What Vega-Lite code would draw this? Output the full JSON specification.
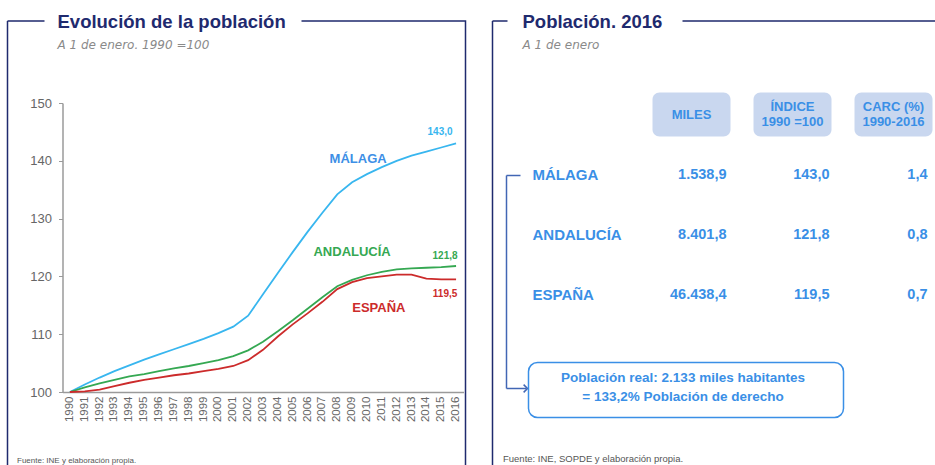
{
  "$schema": "https://vega.github.io/schema/vega-lite/v6.json",
  "padding": {"left": 6.5, "top": 11, "right": 0, "bottom": 0},
  "spacing": 25,
  "background": "white",
  "config": {
    "locale": {"number": {"decimal": ",", "thousands": ".", "grouping": [3], "currency": ["", " €"]}},
    "font": "Liberation Sans",
    "view": {"stroke": null},
    "title": {
      "font": "Liberation Sans", "fontSize": 18.5, "fontWeight": "bold", "color": "#1f2a6e",
      "subtitleFont": "DejaVu Sans", "subtitleFontSize": 12, "subtitleFontStyle": "italic",
      "subtitleColor": "#8a8a8a", "subtitlePadding": 9, "anchor": "start", "frame": "group", "offset": -30
    }
  },
  "datasets": {
    "evolucion": [
      {"serie": "MÁLAGA", "anio": 1990, "valor": 100.0},
      {"serie": "MÁLAGA", "anio": 1991, "valor": 101.3},
      {"serie": "MÁLAGA", "anio": 1992, "valor": 102.5},
      {"serie": "MÁLAGA", "anio": 1993, "valor": 103.6},
      {"serie": "MÁLAGA", "anio": 1994, "valor": 104.6},
      {"serie": "MÁLAGA", "anio": 1995, "valor": 105.6},
      {"serie": "MÁLAGA", "anio": 1996, "valor": 106.5},
      {"serie": "MÁLAGA", "anio": 1997, "valor": 107.4},
      {"serie": "MÁLAGA", "anio": 1998, "valor": 108.3},
      {"serie": "MÁLAGA", "anio": 1999, "valor": 109.2},
      {"serie": "MÁLAGA", "anio": 2000, "valor": 110.2},
      {"serie": "MÁLAGA", "anio": 2001, "valor": 111.3},
      {"serie": "MÁLAGA", "anio": 2002, "valor": 113.2},
      {"serie": "MÁLAGA", "anio": 2003, "valor": 116.9},
      {"serie": "MÁLAGA", "anio": 2004, "valor": 120.6},
      {"serie": "MÁLAGA", "anio": 2005, "valor": 124.2},
      {"serie": "MÁLAGA", "anio": 2006, "valor": 127.7},
      {"serie": "MÁLAGA", "anio": 2007, "valor": 131.0},
      {"serie": "MÁLAGA", "anio": 2008, "valor": 134.2},
      {"serie": "MÁLAGA", "anio": 2009, "valor": 136.3},
      {"serie": "MÁLAGA", "anio": 2010, "valor": 137.7},
      {"serie": "MÁLAGA", "anio": 2011, "valor": 138.9},
      {"serie": "MÁLAGA", "anio": 2012, "valor": 140.0},
      {"serie": "MÁLAGA", "anio": 2013, "valor": 140.9},
      {"serie": "MÁLAGA", "anio": 2014, "valor": 141.6},
      {"serie": "MÁLAGA", "anio": 2015, "valor": 142.3},
      {"serie": "MÁLAGA", "anio": 2016, "valor": 143.0},
      {"serie": "ANDALUCÍA", "anio": 1990, "valor": 100.0},
      {"serie": "ANDALUCÍA", "anio": 1991, "valor": 100.8},
      {"serie": "ANDALUCÍA", "anio": 1992, "valor": 101.5},
      {"serie": "ANDALUCÍA", "anio": 1993, "valor": 102.1},
      {"serie": "ANDALUCÍA", "anio": 1994, "valor": 102.7},
      {"serie": "ANDALUCÍA", "anio": 1995, "valor": 103.1},
      {"serie": "ANDALUCÍA", "anio": 1996, "valor": 103.6},
      {"serie": "ANDALUCÍA", "anio": 1997, "valor": 104.1},
      {"serie": "ANDALUCÍA", "anio": 1998, "valor": 104.5},
      {"serie": "ANDALUCÍA", "anio": 1999, "valor": 105.0},
      {"serie": "ANDALUCÍA", "anio": 2000, "valor": 105.5},
      {"serie": "ANDALUCÍA", "anio": 2001, "valor": 106.2},
      {"serie": "ANDALUCÍA", "anio": 2002, "valor": 107.2},
      {"serie": "ANDALUCÍA", "anio": 2003, "valor": 108.7},
      {"serie": "ANDALUCÍA", "anio": 2004, "valor": 110.5},
      {"serie": "ANDALUCÍA", "anio": 2005, "valor": 112.4},
      {"serie": "ANDALUCÍA", "anio": 2006, "valor": 114.4},
      {"serie": "ANDALUCÍA", "anio": 2007, "valor": 116.4},
      {"serie": "ANDALUCÍA", "anio": 2008, "valor": 118.3},
      {"serie": "ANDALUCÍA", "anio": 2009, "valor": 119.4},
      {"serie": "ANDALUCÍA", "anio": 2010, "valor": 120.2},
      {"serie": "ANDALUCÍA", "anio": 2011, "valor": 120.8},
      {"serie": "ANDALUCÍA", "anio": 2012, "valor": 121.2},
      {"serie": "ANDALUCÍA", "anio": 2013, "valor": 121.4},
      {"serie": "ANDALUCÍA", "anio": 2014, "valor": 121.5},
      {"serie": "ANDALUCÍA", "anio": 2015, "valor": 121.6},
      {"serie": "ANDALUCÍA", "anio": 2016, "valor": 121.8},
      {"serie": "ESPAÑA", "anio": 1990, "valor": 100.0},
      {"serie": "ESPAÑA", "anio": 1991, "valor": 100.1},
      {"serie": "ESPAÑA", "anio": 1992, "valor": 100.4},
      {"serie": "ESPAÑA", "anio": 1993, "valor": 101.0},
      {"serie": "ESPAÑA", "anio": 1994, "valor": 101.6},
      {"serie": "ESPAÑA", "anio": 1995, "valor": 102.1},
      {"serie": "ESPAÑA", "anio": 1996, "valor": 102.5},
      {"serie": "ESPAÑA", "anio": 1997, "valor": 102.9},
      {"serie": "ESPAÑA", "anio": 1998, "valor": 103.2},
      {"serie": "ESPAÑA", "anio": 1999, "valor": 103.6},
      {"serie": "ESPAÑA", "anio": 2000, "valor": 104.0},
      {"serie": "ESPAÑA", "anio": 2001, "valor": 104.5},
      {"serie": "ESPAÑA", "anio": 2002, "valor": 105.5},
      {"serie": "ESPAÑA", "anio": 2003, "valor": 107.3},
      {"serie": "ESPAÑA", "anio": 2004, "valor": 109.6},
      {"serie": "ESPAÑA", "anio": 2005, "valor": 111.7},
      {"serie": "ESPAÑA", "anio": 2006, "valor": 113.6},
      {"serie": "ESPAÑA", "anio": 2007, "valor": 115.6},
      {"serie": "ESPAÑA", "anio": 2008, "valor": 117.8},
      {"serie": "ESPAÑA", "anio": 2009, "valor": 119.0},
      {"serie": "ESPAÑA", "anio": 2010, "valor": 119.7},
      {"serie": "ESPAÑA", "anio": 2011, "valor": 120.0},
      {"serie": "ESPAÑA", "anio": 2012, "valor": 120.3},
      {"serie": "ESPAÑA", "anio": 2013, "valor": 120.3},
      {"serie": "ESPAÑA", "anio": 2014, "valor": 119.6},
      {"serie": "ESPAÑA", "anio": 2015, "valor": 119.5},
      {"serie": "ESPAÑA", "anio": 2016, "valor": 119.5}
    ],
    "tabla": [
      {"region": "MÁLAGA", "miles": 1538.9, "indice": 143.0, "carc": 1.4},
      {"region": "ANDALUCÍA", "miles": 8401.8, "indice": 121.8, "carc": 0.8},
      {"region": "ESPAÑA", "miles": 46438.4, "indice": 119.5, "carc": 0.7}
    ],
    "cabeceras": [
      {"col": "miles", "cabecera": "MILES", "lineas": 1},
      {"col": "indice", "cabecera": "ÍNDICE\n1990 =100", "lineas": 2},
      {"col": "carc", "cabecera": "CARC (%)\n1990-2016", "lineas": 2}
    ],
    "nota": [
      {"texto": "Población real:  2.133 miles habitantes\n= 133,2% Población  de derecho"}
    ]
  },
  "hconcat": [
    {
      "width": 458,
      "height": 445,
      "view": {"stroke": "#1f2a6e", "strokeWidth": 1.5, "strokeDash": [37, 257, 609, 458, 445, 0]},
      "title": {"text": "Evolución de la población", "subtitle": "A 1 de enero. 1990 =100", "dx": 50},
      "data": {"name": "evolucion"},
      "encoding": {
        "x": {
          "field": "anio", "type": "ordinal",
          "scale": {"type": "band", "range": [55, 456], "paddingInner": 0, "paddingOuter": 0},
          "axis": {
            "labelAngle": -90, "ticks": false, "domainColor": "#9a9a9a", "domainWidth": 1.5,
            "labelColor": "#666666", "labelFont": "Liberation Sans", "labelFontSize": 11.5, "labelPadding": 4,
            "offset": -74,
            "title": "Fuente: INE y elaboración propia.", "titleX": 9, "titleY": 70.5,
            "titleAlign": "left", "titleBaseline": "alphabetic", "titleFontSize": 8,
            "titleFontWeight": "normal", "titleColor": "#555555", "titleFont": "Liberation Sans"
          }
        },
        "y": {
          "field": "valor", "type": "quantitative",
          "scale": {"domain": [100, 150], "range": [371, 82], "nice": false, "zero": false},
          "axis": {
            "offset": -55, "values": [100, 110, 120, 130, 140, 150], "grid": false,
            "domainColor": "#9a9a9a", "domainWidth": 1.5, "tickColor": "#9a9a9a", "tickSize": 4,
            "labelPadding": 7, "labelColor": "#666666", "labelFontSize": 13, "title": null
          }
        }
      },
      "layer": [
        {
          "mark": {"type": "line", "strokeWidth": 1.8},
          "encoding": {
            "color": {
              "field": "serie", "type": "nominal", "legend": null,
              "scale": {"domain": ["MÁLAGA", "ANDALUCÍA", "ESPAÑA"], "range": ["#38b6ef", "#35a852", "#cc2b2b"]}
            }
          }
        },
        {
          "transform": [{"filter": "datum.serie == 'MÁLAGA' && datum.anio == 2009"}],
          "mark": {"type": "text", "dx": 6, "dy": -23, "fontWeight": "bold", "fontSize": 13, "color": "#3d8fe6"},
          "encoding": {"text": {"field": "serie"}}
        },
        {
          "transform": [{"filter": "datum.serie == 'ANDALUCÍA' && datum.anio == 2009"}],
          "mark": {"type": "text", "dx": 0, "dy": -28, "fontWeight": "bold", "fontSize": 13, "color": "#35a852"},
          "encoding": {"text": {"field": "serie"}}
        },
        {
          "transform": [{"filter": "datum.serie == 'ESPAÑA' && datum.anio == 2011"}],
          "mark": {"type": "text", "dx": -3, "dy": 32, "fontWeight": "bold", "fontSize": 13, "color": "#cc2b2b"},
          "encoding": {"text": {"field": "serie"}}
        },
        {
          "transform": [{"filter": "datum.serie == 'MÁLAGA' && datum.anio == 2016"}],
          "mark": {"type": "text", "dx": -16, "dy": -11, "fontWeight": "bold", "fontSize": 10, "color": "#38b6ef"},
          "encoding": {"text": {"field": "valor", "type": "quantitative", "format": ".1f"}}
        },
        {
          "transform": [{"filter": "datum.serie == 'ANDALUCÍA' && datum.anio == 2016"}],
          "mark": {"type": "text", "dx": -11, "dy": -10, "fontWeight": "bold", "fontSize": 10, "color": "#35a852"},
          "encoding": {"text": {"field": "valor", "type": "quantitative", "format": ".1f"}}
        },
        {
          "transform": [{"filter": "datum.serie == 'ESPAÑA' && datum.anio == 2016"}],
          "mark": {"type": "text", "dx": -11, "dy": 15, "fontWeight": "bold", "fontSize": 10, "color": "#cc2b2b"},
          "encoding": {"text": {"field": "valor", "type": "quantitative", "format": ".1f"}}
        }
      ]
    },
    {
      "width": 446,
      "height": 445,
      "view": {"stroke": "#1f2a6e", "strokeWidth": 1.5, "strokeDash": [15, 175, 256, 891, 445, 0]},
      "title": {"text": "Población. 2016", "subtitle": "A 1 de enero", "dx": 30},
      "layer": [
        {
          "data": {"name": "cabeceras"},
          "mark": {"type": "rect", "width": 78, "height": 44, "cornerRadius": 7, "fill": "#c9d7ef"},
          "encoding": {
            "x": {"field": "col", "type": "nominal", "scale": {"type": "band", "domain": ["nombre", "miles", "indice", "carc"], "range": [47.5, 451.5], "paddingInner": 0, "paddingOuter": 0},
              "axis": {"labels": false, "ticks": false, "domain": false, "title": "Fuente: INE, SOPDE y elaboración propia.", "titleX": 10, "titleY": -5, "titleAlign": "left", "titleBaseline": "alphabetic", "titleFontSize": 9.5, "titleFontWeight": "normal", "titleColor": "#555555", "titleFont": "Liberation Sans"}},
            "y": {"datum": "hdr", "type": "nominal", "scale": {"type": "band", "domain": ["hdr", "MÁLAGA", "ANDALUCÍA", "ESPAÑA", "nota"], "range": [63.5, 363.5], "paddingInner": 0, "paddingOuter": 0}, "axis": null}
          }
        },
        {
          "data": {"name": "cabeceras"},
          "transform": [{"filter": "datum.lineas == 1"}],
          "mark": {"type": "text", "fontSize": 13, "fontWeight": "bold", "color": "#3a8fe6"},
          "encoding": {
            "x": {"field": "col", "type": "nominal", "scale": {"type": "band", "domain": ["nombre", "miles", "indice", "carc"], "range": [47.5, 451.5], "paddingInner": 0, "paddingOuter": 0},
              "axis": {"labels": false, "ticks": false, "domain": false, "title": "Fuente: INE, SOPDE y elaboración propia.", "titleX": 10, "titleY": -5, "titleAlign": "left", "titleBaseline": "alphabetic", "titleFontSize": 9.5, "titleFontWeight": "normal", "titleColor": "#555555", "titleFont": "Liberation Sans"}},
            "y": {"datum": "hdr", "type": "nominal", "scale": {"type": "band", "domain": ["hdr", "MÁLAGA", "ANDALUCÍA", "ESPAÑA", "nota"], "range": [63.5, 363.5], "paddingInner": 0, "paddingOuter": 0}, "axis": null},
            "text": {"field": "cabecera"}
          }
        },
        {
          "data": {"name": "cabeceras"},
          "transform": [{"filter": "datum.lineas == 2"}],
          "mark": {"type": "text", "lineBreak": "\n", "fontSize": 13, "lineHeight": 15, "fontWeight": "bold", "color": "#3a8fe6", "dy": -7.5},
          "encoding": {
            "x": {"field": "col", "type": "nominal", "scale": {"type": "band", "domain": ["nombre", "miles", "indice", "carc"], "range": [47.5, 451.5], "paddingInner": 0, "paddingOuter": 0},
              "axis": {"labels": false, "ticks": false, "domain": false, "title": "Fuente: INE, SOPDE y elaboración propia.", "titleX": 10, "titleY": -5, "titleAlign": "left", "titleBaseline": "alphabetic", "titleFontSize": 9.5, "titleFontWeight": "normal", "titleColor": "#555555", "titleFont": "Liberation Sans"}},
            "y": {"datum": "hdr", "type": "nominal", "scale": {"type": "band", "domain": ["hdr", "MÁLAGA", "ANDALUCÍA", "ESPAÑA", "nota"], "range": [63.5, 363.5], "paddingInner": 0, "paddingOuter": 0}, "axis": null},
            "text": {"field": "cabecera"}
          }
        },
        {
          "data": {"name": "tabla"},
          "mark": {"type": "text", "align": "left", "dx": -58, "fontSize": 15, "fontWeight": "bold", "color": "#3a8fe6"},
          "encoding": {
            "x": {"datum": "nombre", "type": "nominal", "scale": {"type": "band", "domain": ["nombre", "miles", "indice", "carc"], "range": [47.5, 451.5], "paddingInner": 0, "paddingOuter": 0},
              "axis": {"labels": false, "ticks": false, "domain": false, "title": "Fuente: INE, SOPDE y elaboración propia.", "titleX": 10, "titleY": -5, "titleAlign": "left", "titleBaseline": "alphabetic", "titleFontSize": 9.5, "titleFontWeight": "normal", "titleColor": "#555555", "titleFont": "Liberation Sans"}},
            "y": {"field": "region", "type": "nominal", "scale": {"type": "band", "domain": ["hdr", "MÁLAGA", "ANDALUCÍA", "ESPAÑA", "nota"], "range": [63.5, 363.5], "paddingInner": 0, "paddingOuter": 0}, "axis": null},
            "text": {"field": "region"}
          }
        },
        {
          "data": {"name": "tabla"},
          "mark": {"type": "text", "align": "right", "dx": 35, "fontSize": 14.5, "fontWeight": "bold", "color": "#3a8fe6"},
          "encoding": {
            "x": {"datum": "miles", "type": "nominal", "scale": {"type": "band", "domain": ["nombre", "miles", "indice", "carc"], "range": [47.5, 451.5], "paddingInner": 0, "paddingOuter": 0},
              "axis": {"labels": false, "ticks": false, "domain": false, "title": "Fuente: INE, SOPDE y elaboración propia.", "titleX": 10, "titleY": -5, "titleAlign": "left", "titleBaseline": "alphabetic", "titleFontSize": 9.5, "titleFontWeight": "normal", "titleColor": "#555555", "titleFont": "Liberation Sans"}},
            "y": {"field": "region", "type": "nominal", "scale": {"type": "band", "domain": ["hdr", "MÁLAGA", "ANDALUCÍA", "ESPAÑA", "nota"], "range": [63.5, 363.5], "paddingInner": 0, "paddingOuter": 0}, "axis": null},
            "text": {"field": "miles", "type": "quantitative", "format": ",.1f"}
          }
        },
        {
          "data": {"name": "tabla"},
          "mark": {"type": "text", "align": "right", "dx": 37, "fontSize": 14.5, "fontWeight": "bold", "color": "#3a8fe6"},
          "encoding": {
            "x": {"datum": "indice", "type": "nominal", "scale": {"type": "band", "domain": ["nombre", "miles", "indice", "carc"], "range": [47.5, 451.5], "paddingInner": 0, "paddingOuter": 0},
              "axis": {"labels": false, "ticks": false, "domain": false, "title": "Fuente: INE, SOPDE y elaboración propia.", "titleX": 10, "titleY": -5, "titleAlign": "left", "titleBaseline": "alphabetic", "titleFontSize": 9.5, "titleFontWeight": "normal", "titleColor": "#555555", "titleFont": "Liberation Sans"}},
            "y": {"field": "region", "type": "nominal", "scale": {"type": "band", "domain": ["hdr", "MÁLAGA", "ANDALUCÍA", "ESPAÑA", "nota"], "range": [63.5, 363.5], "paddingInner": 0, "paddingOuter": 0}, "axis": null},
            "text": {"field": "indice", "type": "quantitative", "format": ".1f"}
          }
        },
        {
          "data": {"name": "tabla"},
          "mark": {"type": "text", "align": "right", "dx": 34, "fontSize": 14.5, "fontWeight": "bold", "color": "#3a8fe6"},
          "encoding": {
            "x": {"datum": "carc", "type": "nominal", "scale": {"type": "band", "domain": ["nombre", "miles", "indice", "carc"], "range": [47.5, 451.5], "paddingInner": 0, "paddingOuter": 0},
              "axis": {"labels": false, "ticks": false, "domain": false, "title": "Fuente: INE, SOPDE y elaboración propia.", "titleX": 10, "titleY": -5, "titleAlign": "left", "titleBaseline": "alphabetic", "titleFontSize": 9.5, "titleFontWeight": "normal", "titleColor": "#555555", "titleFont": "Liberation Sans"}},
            "y": {"field": "region", "type": "nominal", "scale": {"type": "band", "domain": ["hdr", "MÁLAGA", "ANDALUCÍA", "ESPAÑA", "nota"], "range": [63.5, 363.5], "paddingInner": 0, "paddingOuter": 0}, "axis": null},
            "text": {"field": "carc", "type": "quantitative", "format": ".1f"}
          }
        },
        {
          "data": {"name": "nota"},
          "mark": {"type": "rule", "color": "#4166b4", "strokeWidth": 1.5, "xOffset": -84, "yOffset": 1, "y2Offset": 34},
          "encoding": {
            "x": {"datum": "nombre", "type": "nominal", "scale": {"type": "band", "domain": ["nombre", "miles", "indice", "carc"], "range": [47.5, 451.5], "paddingInner": 0, "paddingOuter": 0},
              "axis": {"labels": false, "ticks": false, "domain": false, "title": "Fuente: INE, SOPDE y elaboración propia.", "titleX": 10, "titleY": -5, "titleAlign": "left", "titleBaseline": "alphabetic", "titleFontSize": 9.5, "titleFontWeight": "normal", "titleColor": "#555555", "titleFont": "Liberation Sans"}},
            "y": {"datum": "MÁLAGA", "type": "nominal", "scale": {"type": "band", "domain": ["hdr", "MÁLAGA", "ANDALUCÍA", "ESPAÑA", "nota"], "range": [63.5, 363.5], "paddingInner": 0, "paddingOuter": 0}, "axis": null},
            "y2": {"datum": "nota"}
          }
        },
        {
          "data": {"name": "nota"},
          "mark": {"type": "rule", "color": "#4166b4", "strokeWidth": 1.5, "xOffset": -84, "x2Offset": -70, "yOffset": 1},
          "encoding": {
            "x": {"datum": "nombre", "type": "nominal", "scale": {"type": "band", "domain": ["nombre", "miles", "indice", "carc"], "range": [47.5, 451.5], "paddingInner": 0, "paddingOuter": 0},
              "axis": {"labels": false, "ticks": false, "domain": false, "title": "Fuente: INE, SOPDE y elaboración propia.", "titleX": 10, "titleY": -5, "titleAlign": "left", "titleBaseline": "alphabetic", "titleFontSize": 9.5, "titleFontWeight": "normal", "titleColor": "#555555", "titleFont": "Liberation Sans"}},
            "x2": {"datum": "nombre"},
            "y": {"datum": "MÁLAGA", "type": "nominal", "scale": {"type": "band", "domain": ["hdr", "MÁLAGA", "ANDALUCÍA", "ESPAÑA", "nota"], "range": [63.5, 363.5], "paddingInner": 0, "paddingOuter": 0}, "axis": null}
          }
        },
        {
          "data": {"name": "nota"},
          "mark": {"type": "rule", "color": "#4166b4", "strokeWidth": 1.5, "xOffset": -84, "x2Offset": -64, "yOffset": 34},
          "encoding": {
            "x": {"datum": "nombre", "type": "nominal", "scale": {"type": "band", "domain": ["nombre", "miles", "indice", "carc"], "range": [47.5, 451.5], "paddingInner": 0, "paddingOuter": 0},
              "axis": {"labels": false, "ticks": false, "domain": false, "title": "Fuente: INE, SOPDE y elaboración propia.", "titleX": 10, "titleY": -5, "titleAlign": "left", "titleBaseline": "alphabetic", "titleFontSize": 9.5, "titleFontWeight": "normal", "titleColor": "#555555", "titleFont": "Liberation Sans"}},
            "x2": {"datum": "nombre"},
            "y": {"datum": "nota", "type": "nominal", "scale": {"type": "band", "domain": ["hdr", "MÁLAGA", "ANDALUCÍA", "ESPAÑA", "nota"], "range": [63.5, 363.5], "paddingInner": 0, "paddingOuter": 0}, "axis": null}
          }
        },
        {
          "data": {"name": "nota"},
          "mark": {"type": "point", "shape": "M-1,-1L0,0L-1,1", "filled": false, "size": 60, "strokeWidth": 1.5, "color": "#4166b4", "opacity": 1, "xOffset": -63, "yOffset": 34},
          "encoding": {
            "x": {"datum": "nombre", "type": "nominal", "scale": {"type": "band", "domain": ["nombre", "miles", "indice", "carc"], "range": [47.5, 451.5], "paddingInner": 0, "paddingOuter": 0},
              "axis": {"labels": false, "ticks": false, "domain": false, "title": "Fuente: INE, SOPDE y elaboración propia.", "titleX": 10, "titleY": -5, "titleAlign": "left", "titleBaseline": "alphabetic", "titleFontSize": 9.5, "titleFontWeight": "normal", "titleColor": "#555555", "titleFont": "Liberation Sans"}},
            "y": {"datum": "nota", "type": "nominal", "scale": {"type": "band", "domain": ["hdr", "MÁLAGA", "ANDALUCÍA", "ESPAÑA", "nota"], "range": [63.5, 363.5], "paddingInner": 0, "paddingOuter": 0}, "axis": null}
          }
        },
        {
          "data": {"name": "nota"},
          "mark": {"type": "rect", "width": 315, "height": 55, "cornerRadius": 9, "fill": "white", "stroke": "#3a8fe6", "strokeWidth": 1.5, "xOffset": -5.5, "yOffset": 35.5},
          "encoding": {
            "x": {"datum": "miles", "type": "nominal", "scale": {"type": "band", "domain": ["nombre", "miles", "indice", "carc"], "range": [47.5, 451.5], "paddingInner": 0, "paddingOuter": 0},
              "axis": {"labels": false, "ticks": false, "domain": false, "title": "Fuente: INE, SOPDE y elaboración propia.", "titleX": 10, "titleY": -5, "titleAlign": "left", "titleBaseline": "alphabetic", "titleFontSize": 9.5, "titleFontWeight": "normal", "titleColor": "#555555", "titleFont": "Liberation Sans"}},
            "y": {"datum": "nota", "type": "nominal", "scale": {"type": "band", "domain": ["hdr", "MÁLAGA", "ANDALUCÍA", "ESPAÑA", "nota"], "range": [63.5, 363.5], "paddingInner": 0, "paddingOuter": 0}, "axis": null}
          }
        },
        {
          "data": {"name": "nota"},
          "mark": {"type": "text", "lineBreak": "\n", "fontSize": 13.5, "lineHeight": 19, "fontWeight": "bold", "color": "#3a8fe6", "dx": -8.5, "dy": 23},
          "encoding": {
            "x": {"datum": "miles", "type": "nominal", "scale": {"type": "band", "domain": ["nombre", "miles", "indice", "carc"], "range": [47.5, 451.5], "paddingInner": 0, "paddingOuter": 0},
              "axis": {"labels": false, "ticks": false, "domain": false, "title": "Fuente: INE, SOPDE y elaboración propia.", "titleX": 10, "titleY": -5, "titleAlign": "left", "titleBaseline": "alphabetic", "titleFontSize": 9.5, "titleFontWeight": "normal", "titleColor": "#555555", "titleFont": "Liberation Sans"}},
            "y": {"datum": "nota", "type": "nominal", "scale": {"type": "band", "domain": ["hdr", "MÁLAGA", "ANDALUCÍA", "ESPAÑA", "nota"], "range": [63.5, 363.5], "paddingInner": 0, "paddingOuter": 0}, "axis": null},
            "text": {"field": "texto"}
          }
        }
      ]
    }
  ]
}
